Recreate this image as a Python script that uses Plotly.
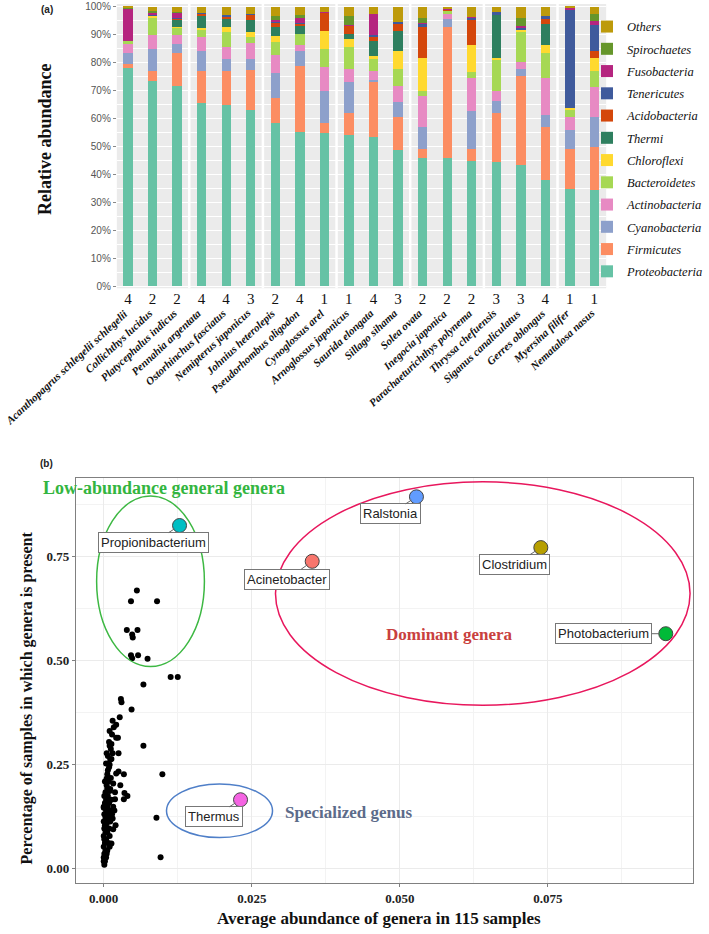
import plotly.graph_objects as go

W, H = 709, 934

# ---------------- panel (a): phylum composition per fish species ----------------
species = ['Acanthopagrus schlegelii schlegelii', 'Collichthys lucidus', 'Platycephalus indicus',
           'Pennahia argentata', 'Ostorhinchus fasciatus', 'Nemipterus japonicus',
           'Johnius heterolepis', 'Pseudorhombus oligodon', 'Cynoglossus arel',
           'Arnoglossus japonicus', 'Saurida elongata', 'Sillago sihama',
           'Solea ovata', 'Inegocia japonica', 'Parachaeturichthys polynema',
           'Thryssa chefuensis', 'Siganus canaliculatus', 'Gerres oblongus',
           'Myersina filifer', 'Nematalosa nasus']
n_samples = [4, 2, 2, 4, 4, 3, 2, 4, 1, 1, 4, 3, 2, 2, 2, 3, 3, 4, 1, 1]

proteobacteria = [78.1, 73.5, 71.8, 65.6, 64.8, 63.0, 58.5, 55.2, 54.9, 54.0, 53.5, 48.6, 46.0, 45.8, 44.8, 44.5, 43.4, 38.0, 34.8, 34.5]
firmicutes = [1.6, 3.6, 11.9, 11.6, 12.4, 14.5, 9.0, 23.8, 3.6, 7.9, 19.5, 12.1, 3.3, 47.1, 4.4, 17.5, 32.0, 19.1, 14.4, 15.3]
cyanobacteria = [3.7, 7.8, 3.2, 7.0, 4.1, 3.9, 8.9, 5.2, 11.3, 11.1, 0.9, 5.1, 7.8, 2.7, 13.7, 4.2, 2.3, 4.1, 6.6, 10.7]
actinobacteria = [3.2, 4.9, 2.9, 5.2, 4.5, 5.7, 6.4, 2.2, 8.8, 4.7, 3.2, 6.0, 11.1, 1.8, 11.6, 3.8, 2.5, 13.5, 4.9, 11.0]
bacteroidetes = [1.2, 6.5, 2.7, 2.5, 5.1, 2.3, 4.5, 3.8, 6.3, 8.1, 4.3, 5.9, 1.6, 1.5, 2.1, 11.0, 11.1, 9.0, 2.5, 5.4]
chloroflexi = [0, 0.7, 0.2, 0.6, 2.0, 1.6, 2.4, 0, 6.6, 2.6, 1.2, 6.5, 12.1, 0, 9.8, 0.9, 0.6, 2.7, 0.6, 5.0]
thermi = [0, 0, 2.9, 4.5, 2.7, 4.5, 3.2, 3.3, 0, 2.1, 5.2, 7.1, 0, 0, 0, 15.1, 0, 7.5, 0, 0]
acidobacteria = [0, 0, 0.2, 0.7, 1.0, 1.8, 1.4, 0.6, 6.4, 2.7, 1.8, 2.6, 11.0, 0.3, 9.2, 0, 0, 1.9, 0, 2.3]
tenericutes = [0, 0.2, 0.3, 0.2, 0.4, 0.3, 0.6, 0.3, 0, 0, 0.3, 0.8, 1.2, 0, 0.5, 1.2, 0.6, 1.0, 35.4, 9.3]
fusobacteria = [11.8, 1.0, 2.1, 0, 0, 0, 0.3, 1.7, 0.3, 0.2, 7.7, 0, 0.3, 0.3, 0.4, 0, 0.7, 0, 0.6, 1.4]
spirochaetes = [0.2, 0.2, 0.1, 0, 0, 0, 1.6, 0.9, 0, 3.4, 0, 0, 1.7, 0, 0, 0, 2.9, 0, 0, 2.5]
others = [0.2, 1.6, 1.7, 2.1, 3.0, 2.4, 3.2, 3.0, 1.8, 3.2, 2.4, 5.3, 3.9, 0.5, 3.5, 1.8, 3.9, 3.2, 0.2, 2.6]

phyla = [('Proteobacteria', proteobacteria, '#66C2A5'),
         ('Firmicutes', firmicutes, '#FC8D62'),
         ('Cyanobacteria', cyanobacteria, '#8DA0CB'),
         ('Actinobacteria', actinobacteria, '#E78AC3'),
         ('Bacteroidetes', bacteroidetes, '#A6D854'),
         ('Chloroflexi', chloroflexi, '#FFD92F'),
         ('Thermi', thermi, '#2E7F5F'),
         ('Acidobacteria', acidobacteria, '#D4470B'),
         ('Tenericutes', tenericutes, '#3F5A9C'),
         ('Fusobacteria', fusobacteria, '#B5257F'),
         ('Spirochaetes', spirochaetes, '#66962B'),
         ('Others', others, '#BD9A0A')]
facet_breaks = [2.5, 5.5, 8.5, 11.5, 14.5, 17.5]
pct_ticks = [0, 10, 20, 30, 40, 50, 60, 70, 80, 90, 100]

# ---------------- panel (b): prevalence vs mean abundance of genera ----------------
genus = ['Acinetobacter', 'Clostridium', 'Photobacterium', 'Propionibacterium', 'Ralstonia', 'Thermus']
genus_abund = [0.0352, 0.0738, 0.0949, 0.0128, 0.0528, 0.0231]
genus_prev = [0.738, 0.771, 0.564, 0.824, 0.893, 0.165]
genus_color = ['#F8766D', '#B79F00', '#00BA38', '#00BFC4', '#619CFF', '#F564E3']
label_dx = [-25, -26, -62, -26, -26, -27]
label_dy = [18, 17, 0, 17, 17, 17]

other_abund = [0.0056, 0.0046, 0.0090, 0.0039, 0.0057, 0.0048, 0.0049, 0.0046, 0.0048, 0.0058, 0.0074,
               0.0113, 0.0125, 0.0067, 0.0029, 0.0030, 0.0047, 0.0027, 0.0015, 0.0021, 0.0010, 0.0021,
               0.0024, 0.0013, 0.0010, 0.0067, 0.0005, 0.0015, 0.0025, 0.0013, 0.0010, 0.0007, 0.0025,
               0.0021, 0.0034, 0.0099, 0.0005, 0.0016, 0.0028, 0.0006, 0.0010, 0.0035, 0.0040, 0.0034,
               0.0019, 0.0010, 0.0003, 0.0000, 0.0089, 0.0015, 0.0005, 0.0016, 0.0013, 0.0096,
               0.0001, 0.0002, 0.0000, 0.0004, 0.0001, 0.0003, 0.0006, 0.0000, 0.0002, 0.0008, 0.0001,
               0.0004, 0.0010, 0.0000, 0.0003, 0.0006, 0.0001, 0.0009, 0.0002, 0.0005, 0.0000, 0.0011,
               0.0003, 0.0007, 0.0001, 0.0004, 0.0012, 0.0000, 0.0006, 0.0002, 0.0009, 0.0004, 0.0013,
               0.0001, 0.0007, 0.0003, 0.0011, 0.0005, 0.0008, 0.0002, 0.0012, 0.0006, 0.0009, 0.0004,
               0.0011, 0.0007, 0.0012, 0.0009, 0.0014, 0.0017, 0.0000, 0.0005, 0.0002, 0.0008, 0.0014,
               0.0016, 0.0019, 0.0018, 0.0020, 0.0010]
other_prev = [0.668, 0.642, 0.642, 0.573, 0.573, 0.562, 0.555, 0.512, 0.505, 0.512, 0.504,
              0.460, 0.460, 0.442, 0.407, 0.399, 0.382, 0.363, 0.355, 0.345, 0.330, 0.314,
              0.314, 0.299, 0.295, 0.295, 0.277, 0.277, 0.277, 0.263, 0.249, 0.236, 0.233,
              0.228, 0.226, 0.226, 0.216, 0.204, 0.200, 0.192, 0.186, 0.181, 0.174, 0.166,
              0.166, 0.164, 0.156, 0.146, 0.122, 0.120, 0.108, 0.094, 0.060, 0.027,
              0.009, 0.017, 0.026, 0.026, 0.035, 0.043, 0.043, 0.052, 0.061, 0.061, 0.070,
              0.070, 0.078, 0.078, 0.087, 0.087, 0.096, 0.096, 0.104, 0.113, 0.113, 0.113,
              0.122, 0.130, 0.130, 0.139, 0.139, 0.148, 0.148, 0.157, 0.157, 0.165, 0.165,
              0.174, 0.174, 0.183, 0.191, 0.200, 0.209, 0.209, 0.217, 0.226, 0.243, 0.252,
              0.261, 0.270, 0.287, 0.304, 0.322, 0.339, 0.017, 0.035, 0.096, 0.122, 0.130,
              0.148, 0.183, 0.139, 0.104, 0.052]


def px(v):  # pixel -> paper x
    return v / W


def py(v):  # pixel -> paper y
    return 1 - v / H


SERIF = 'Liberation Serif'
SANS = 'Liberation Sans'

fig = go.Figure()

# stacked bottom-up; legend lists them top-down (Others first)
for k, (name, vals, col) in enumerate(phyla):
    fig.add_trace(go.Bar(
        x=list(range(len(species))), y=vals, name=name, marker_color=col,
        marker_line_width=0, width=0.38, legendgroup=name, legendrank=100 - k,
        xaxis='x', yaxis='y'))

fig.add_trace(go.Scatter(
    x=other_abund, y=other_prev, mode='markers', showlegend=False,
    marker=dict(color='black', size=6), xaxis='x2', yaxis='y2'))
fig.add_trace(go.Scatter(
    x=genus_abund, y=genus_prev, mode='markers', showlegend=False,
    marker=dict(color=genus_color, size=14, line=dict(color='#444', width=1)),
    xaxis='x2', yaxis='y2'))

shapes = [dict(type='rect', xref='x domain', yref='y domain', x0=0, x1=1, y0=0, y1=1,
               fillcolor='#EBEBEB', line_width=0, layer='below')]
for b in facet_breaks:
    shapes.append(dict(type='line', xref='x', yref='y domain', x0=b, x1=b, y0=0, y1=1,
                       line=dict(color='white', width=2.5), layer='above'))
# grouping ellipses in panel (b)
shapes.append(dict(type='circle', xref='x2', yref='y2', x0=-0.0012, x1=0.0170, y0=0.485, y1=0.895,
                   line=dict(color='#3DB843', width=1.5)))
shapes.append(dict(type='circle', xref='x2', yref='y2', x0=0.0290, x1=0.0990, y0=0.392, y1=0.929,
                   line=dict(color='#E8175D', width=1.5)))
shapes.append(dict(type='circle', xref='x2', yref='y2', x0=0.0106, x1=0.0285, y0=0.074, y1=0.203,
                   line=dict(color='#4F7FC8', width=1.5)))

ann = []
for i, sp in enumerate(species):
    ann.append(dict(xref='x', yref='paper', x=i, y=py(304), text=sp, showarrow=False,
                    xanchor='right', yanchor='top', textangle=-43, xshift=5,
                    font=dict(family=SERIF, size=11, color='#111', weight='bold', style='italic')))
for g, gx, gy, dx, dy in zip(genus, genus_abund, genus_prev, label_dx, label_dy):
    ann.append(dict(xref='x2', yref='y2', x=gx, y=gy, text=g, showarrow=True, ax=dx, ay=dy,
                    arrowhead=0, arrowwidth=1, arrowcolor='#666', standoff=6,
                    bgcolor='white', bordercolor='#777', borderwidth=1, borderpad=2,
                    font=dict(family=SANS, size=13, color='#222')))


def paper_text(x, y, text, font, angle=0):
    return dict(xref='paper', yref='paper', x=px(x), y=py(y), text=text, showarrow=False,
                xanchor='center', yanchor='middle', textangle=angle, font=font)


ann += [
    paper_text(47, 8, '<b>(a)</b>', dict(family=SANS, size=10, color='#222')),
    paper_text(47, 464, '<b>(b)</b>', dict(family=SANS, size=10, color='#222')),
    paper_text(45, 138, '<b>Relative abundance</b>', dict(family=SERIF, size=18, color='#111'), -90),
    paper_text(27, 700, '<b>Percentage of samples in which genera is present</b>',
               dict(family=SERIF, size=16, color='#111'), -90),
    paper_text(380, 922, '<b>Average abundance of genera in 115 samples</b>',
               dict(family=SERIF, size=17, color='#111')),
    paper_text(164, 489, '<b>Low-abundance general genera</b>', dict(family=SERIF, size=18, color='#33B540')),
    paper_text(450, 637, '<b>Dominant genera</b>', dict(family=SERIF, size=17, color='#C9403E')),
    paper_text(349, 816, '<b>Specialized genus</b>', dict(family=SERIF, size=17, color='#5C6B8A')),
]

fig.update_layout(
    width=W, height=H, margin=dict(l=0, r=0, t=0, b=0),
    paper_bgcolor='white', plot_bgcolor='white',
    barmode='stack', bargap=0,
    shapes=shapes, annotations=ann,
    legend=dict(x=px(588), y=py(10), xanchor='left', yanchor='top', traceorder='grouped',
                tracegroupgap=3, bgcolor='rgba(0,0,0,0)',
                font=dict(family=SERIF, size=12.5, color='#111', style='italic')),
    xaxis=dict(domain=[px(117), px(607)], range=[-0.45, 19.48], anchor='y',
               tickvals=list(range(len(species))), ticktext=[str(n) for n in n_samples],
               tickfont=dict(family=SERIF, size=15, color='#111'), showgrid=False,
               zeroline=False, ticks=''),
    yaxis=dict(domain=[py(288), py(2)], range=[-0.71, 101.07], anchor='x',
               tickvals=pct_ticks, ticktext=[f'{v}%' for v in pct_ticks],
               tickfont=dict(family=SANS, size=10, color='#555'), ticklabeloverflow='allow',
               showgrid=True, gridcolor='white', gridwidth=1.2, zeroline=False,
               ticks='outside', ticklen=3, tickcolor='#888',
               minor=dict(dtick=5, tick0=0, showgrid=True, gridcolor='white', gridwidth=0.5)),
    xaxis2=dict(domain=[px(76), px(694)], range=[-0.0047, 0.0995], anchor='y2',
                tickvals=[0, 0.025, 0.05, 0.075], tickformat='.3f',
                tickfont=dict(family=SERIF, size=13, color='#222', weight='bold'),
                showgrid=True, gridcolor='#EBEBEB', zeroline=False,
                showline=True, mirror=True, linecolor='#808080', linewidth=1,
                ticks='outside', ticklen=3, tickcolor='#808080',
                minor=dict(dtick=0.0125, tick0=0, showgrid=True, gridcolor='#F3F3F3', gridwidth=0.6)),
    yaxis2=dict(domain=[py(887), py(479)], range=[-0.0358, 0.9384], anchor='x2',
                tickvals=[0, 0.25, 0.5, 0.75], tickformat='.2f',
                tickfont=dict(family=SERIF, size=13, color='#222', weight='bold'),
                showgrid=True, gridcolor='#EBEBEB', zeroline=False,
                showline=True, mirror=True, linecolor='#808080', linewidth=1,
                ticks='outside', ticklen=3, tickcolor='#808080',
                minor=dict(dtick=0.125, tick0=0, showgrid=True, gridcolor='#F3F3F3', gridwidth=0.6)),
)

# drop the default 8px page margin so the figure sits at the window's top-left corner
fig.write_html('out.html', config={'displayModeBar': False},
               post_script="document.body.style.margin='0';")
